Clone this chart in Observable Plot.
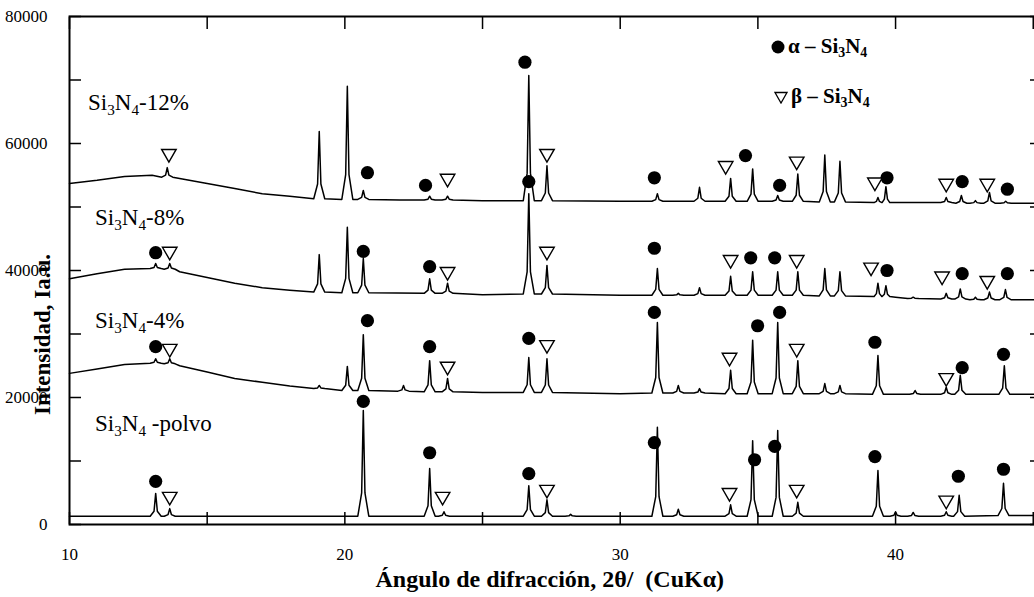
<!DOCTYPE html>
<html><head><meta charset="utf-8">
<script src="https://cdn.jsdelivr.net/npm/d3@7"></script>
<script src="https://cdn.jsdelivr.net/npm/@observablehq/plot@0.6"></script>
<style>
html,body{margin:0;padding:0;background:#fff;}
#wrap{position:relative;width:1034px;height:597px;overflow:hidden;font-family:"Liberation Serif","Times New Roman",serif;color:#000;background:#fff;}
#chart{position:absolute;left:0;top:0;}
#chart svg, #chart svg text{font-family:"Liberation Serif","Times New Roman",serif !important;}
.lbl{position:absolute;white-space:nowrap;line-height:1;}
.lbl sub{font-size:0.66em;vertical-align:-0.3em;line-height:0;}
.trace{font-size:23px;}
.leg{font-size:21px;font-weight:bold;}
.leg svg{vertical-align:-1px;margin-right:3px;}
.xt{font-size:24px;font-weight:bold;}
.yt{font-size:23px;font-weight:bold;transform:rotate(-90deg);transform-origin:center center;}
</style>
</head><body>
<div id="wrap">
  <div id="chart"></div>
  <div class="lbl trace" style="left:88px;top:91px">Si<sub>3</sub>N<sub>4</sub>-12%</div>
  <div class="lbl trace" style="left:95px;top:206px">Si<sub>3</sub>N<sub>4</sub>-8%</div>
  <div class="lbl trace" style="left:95px;top:309px">Si<sub>3</sub>N<sub>4</sub>-4%</div>
  <div class="lbl trace" style="left:95px;top:412px">Si<sub>3</sub>N<sub>4</sub> -polvo</div>
  <div class="lbl leg" style="left:771px;top:36px"><svg width="14" height="14" viewBox="0 0 14 14"><circle cx="7" cy="7" r="6.5" fill="#000"/></svg>α – Si<sub>3</sub>N<sub>4</sub></div>
  <div class="lbl leg" style="left:774px;top:86px"><svg width="14" height="13" viewBox="0 0 14 13"><path d="M1,1.5 L13,1.5 L7,12 Z" fill="#fff" stroke="#000" stroke-width="1.3"/></svg>β – Si<sub>3</sub>N<sub>4</sub></div>
  <div class="lbl xt" id="xtitle">Ángulo de difracción, 2θ/&nbsp; (CuKα)</div>
  <div class="lbl yt" id="ytitle">Intensidad, Ia.u.</div>
</div>
<script>
// ---- data (2θ in degrees, intensity in counts) ----
const xTicks = [10, 20, 30, 40];
const xMinor = [15, 25, 35, 45];
const yTicks = [0, 20000, 40000, 60000, 80000];
const yMinor = [10000, 30000, 50000, 70000];

// baseline points per trace [2θ, I]
const base12 = [[10,53700],[11,54200],[12,54800],[13,55000],[14,54500],[15,53700],[16,52900],[17,52100],[18,51700],[19,51300],[20,51200],[22,51100],[25,51000],[30,50900],[35,50900],[40,50700],[45.3,50600]];
const base8  = [[10,38700],[11,39500],[12,40200],[13,40300],[14,39800],[15,38900],[16,38000],[17,37300],[18,36900],[19,36600],[20,36500],[25,36200],[30,36100],[35,36100],[40,35800],[45.3,35400]];
const base4  = [[10,23800],[11,24500],[12,25200],[13,25400],[14,25000],[15,24000],[16,23000],[17,22400],[18,21800],[19,21400],[20,21100],[25,20800],[30,20600],[35,20600],[40,20500],[45.3,20500]];
const base0  = [[10,1300],[15,1300],[20,1300],[25,1300],[30,1300],[35,1300],[40,1300],[45.3,1400]];

// peaks per trace [2θ, top, foot]
const peaks12 = [[13.55,56200,54700],[19.07,61900,51300],[20.09,69000,51200],[20.67,52600,51200],[23.08,51700,51100],[23.73,51700,51100],[26.68,70700,51000],[27.34,56500,51000],[31.35,52100,50900],[32.88,53100,50900],[34.01,54500,50900],[34.81,56000,50900],[35.72,51800,50900],[36.45,55200,50900],[37.43,58200,50800],[37.98,57200,50800],[39.36,51500,50700],[39.65,53200,50700],[41.84,51500,50700],[42.39,51800,50600],[42.9,51000,50600],[43.41,52300,50600],[44.0,50900,50600]];
const peaks8 = [[13.13,41100,40300],[13.64,41100,40200],[19.07,42500,36600],[20.09,46800,36500],[20.67,41900,36500],[23.08,38700,36400],[23.73,38000,36400],[26.68,52100,36300],[27.34,40800,36300],[31.35,40300,36100],[32.11,36400,36100],[32.88,37300,36100],[34.01,39100,36100],[34.81,39800,36100],[35.72,39800,36100],[36.45,39800,36100],[37.43,40300,36000],[37.98,39800,36000],[39.36,38000,35900],[39.65,37600,35900],[40.64,35800,35600],[41.84,36400,35500],[42.35,37100,35500],[42.9,35800,35400],[43.41,36600,35400],[43.99,37000,35400]];
const peaks4 = [[13.13,26100,25400],[13.64,26100,25300],[19.07,21900,21400],[20.09,24900,21100],[20.67,29900,21100],[22.13,21900,21000],[23.08,25800,20900],[23.73,23000,20900],[26.68,26300,20800],[27.34,26100,20800],[31.35,31800,20700],[32.11,21900,20700],[32.88,21400,20700],[34.01,24300,20600],[34.81,29000,20600],[35.72,31800,20600],[36.45,25800,20600],[37.43,22200,20600],[37.98,21900,20600],[39.36,26600,20500],[40.71,21100,20500],[41.84,21600,20500],[42.35,23500,20500],[43.95,25000,20500]];
const peaks0 = [[13.13,4900,1300],[13.64,2500,1300],[20.67,17950,1300],[23.08,8800,1300],[23.6,2000,1300],[26.68,6100,1300],[27.34,3900,1300],[28.2,1600,1300],[31.35,15300,1300],[32.11,2400,1300],[34.01,3100,1300],[34.81,13200,1300],[35.72,14800,1300],[36.45,3500,1300],[39.36,8500,1300],[40.0,2000,1300],[40.64,1900,1300],[41.84,2000,1300],[42.31,4600,1300],[43.92,6500,1400]];

// phase markers [2θ, I]
const alphaMarks = [
  [20.82,55400],[22.93,53400],[26.54,72800],[31.24,54600],[34.55,58100],[35.79,53400],[39.69,54600],[42.42,54000],[44.06,52800],
  [13.13,42800],[20.67,43000],[23.08,40600],[26.68,54000],[31.24,43500],[34.74,42000],[35.61,42000],[39.69,40000],[42.42,39500],[44.06,39500],
  [13.13,28000],[20.82,32100],[23.08,28000],[26.68,29300],[31.24,33400],[34.99,31300],[35.79,33400],[39.25,28700],[42.42,24700],[43.92,26800],
  [13.13,6800],[20.67,19400],[23.08,11300],[26.68,8000],[31.24,12900],[34.88,10200],[35.61,12300],[39.25,10700],[42.28,7600],[43.92,8700]
];
const betaMarks = [
  [13.61,58400],[23.73,54500],[27.34,58400],[33.83,56500],[36.41,57200],[39.25,53900],[41.84,53700],[43.33,53700],
  [13.64,43000],[23.73,39800],[27.34,43000],[34.01,41700],[36.41,41700],[39.11,40500],[41.69,39100],[43.33,38400],
  [13.64,27700],[23.73,24900],[27.34,28300],[33.97,26300],[36.41,27700],[41.84,23100],
  [13.64,4400],[23.55,4400],[27.34,5500],[33.97,5000],[36.41,5500],[41.84,3800]
];

// ---- build polylines: baseline points plus a narrow spike at each peak ----
function buildTrace(name, base, peaks) {
  const halfWidth = peaks.map(([p], i) => {
    let d = 0.2;
    if (i > 0) d = Math.min(d, (p - peaks[i - 1][0]) / 2 - 0.005);
    if (i < peaks.length - 1) d = Math.min(d, (peaks[i + 1][0] - p) / 2 - 0.005);
    return d;
  });
  const pts = base.filter(([x]) => !peaks.some(([p], i) => Math.abs(x - p) <= halfWidth[i])).map(([x, y]) => ({x, y}));
  peaks.forEach(([p, top, foot], i) => {
    const hw = halfWidth[i], inner = Math.min(0.06, hw * 0.4);
    const mid = foot + (top - foot) * 0.22;
    pts.push({x: p - hw, y: foot}, {x: p - inner, y: mid}, {x: p, y: top}, {x: p + inner, y: mid}, {x: p + hw, y: foot});
  });
  pts.sort((a, b) => a.x - b.x);
  return pts.map(d => ({...d, trace: name}));
}
const rows = [
  ...buildTrace("12%", base12, peaks12),
  ...buildTrace("8%", base8, peaks8),
  ...buildTrace("4%", base4, peaks4),
  ...buildTrace("polvo", base0, peaks0)
];

const serif = "'Liberation Serif','Times New Roman',serif";
const chart = Plot.plot({
  width: 1034,
  height: 597,
  marginLeft: 69,
  marginRight: -7,
  marginTop: 16,
  marginBottom: 73,
  x: {domain: [10, 45.3]},
  y: {domain: [0, 80000]},
  style: {fontFamily: serif, fontSize: "17px", color: "#000", background: "#fff", overflow: "hidden"},
  marks: [
    Plot.line(rows, {x: "x", y: "y", z: "trace", stroke: "#000", strokeWidth: 1.5}),
    Plot.dot(alphaMarks, {x: d => d[0], y: d => d[1], r: 6.6, fill: "#000", stroke: "none"}),
    Plot.dot(betaMarks, {x: d => d[0], y: d => d[1], symbol: "triangle", rotate: 180, r: 5.4, fill: "#fff", stroke: "#000", strokeWidth: 1.4}),
    Plot.axisY(yTicks, {anchor: "left", tickSize: 0, tickPadding: 22, tickFormat: d => String(d), fontSize: 17, fontFamily: serif, label: null}),
    Plot.axisY([...yTicks, ...yMinor], {anchor: "left", tickSize: -12, tickFormat: () => "", strokeWidth: 1.5, label: null}),
    Plot.axisY([...yTicks, ...yMinor], {anchor: "right", tickSize: -12, tickFormat: () => "", strokeWidth: 1.5, label: null}),
    Plot.axisX(xTicks, {anchor: "bottom", tickSize: 0, tickPadding: 23, tickFormat: d => String(d), fontSize: 17, fontFamily: serif, label: null}),
    Plot.axisX([...xTicks, ...xMinor], {anchor: "bottom", tickSize: -12, tickFormat: () => "", strokeWidth: 1.5, label: null}),
    Plot.axisX([...xTicks, ...xMinor], {anchor: "top", tickSize: -12, tickFormat: () => "", strokeWidth: 1.5, label: null}),
    Plot.frame({stroke: "#000", strokeWidth: 2})
  ]
});
document.getElementById("chart").appendChild(chart);

// axis titles: x title centred at x≈550, y≈579; y title (rotated) centred at x≈42, y≈334
const xt = document.getElementById("xtitle");
xt.style.left = (550 - xt.offsetWidth / 2) + "px";
xt.style.top = (579 - xt.offsetHeight / 2) + "px";
const yt = document.getElementById("ytitle");
yt.style.left = (42 - yt.offsetWidth / 2) + "px";
yt.style.top = (334 - yt.offsetHeight / 2) + "px";
</script>
</body></html>
